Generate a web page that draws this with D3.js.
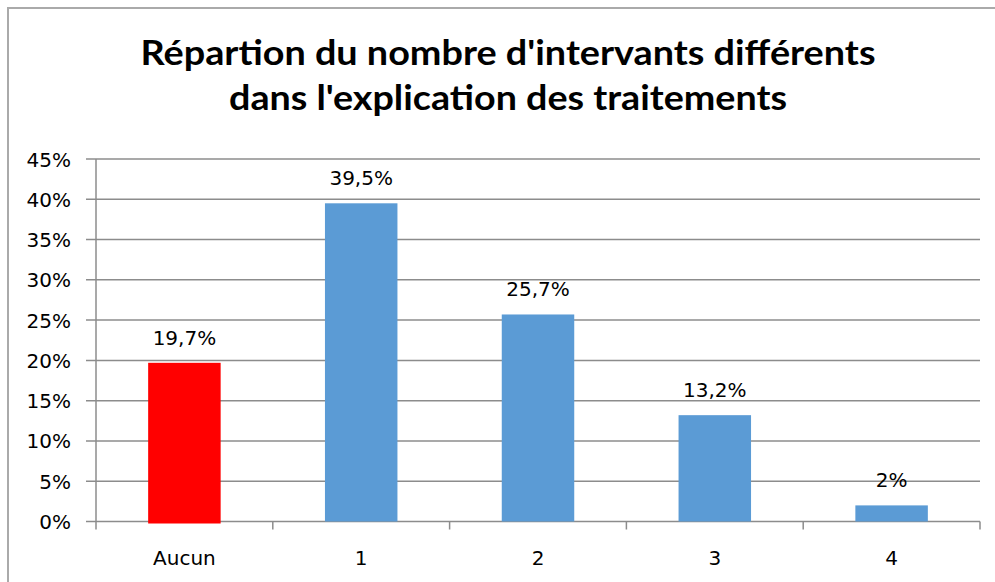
<!DOCTYPE html>
<html><head><meta charset="utf-8">
<script src="https://cdn.jsdelivr.net/npm/d3@7"></script>
<style>html,body{margin:0;padding:0;background:#fff;overflow:hidden}</style>
</head><body>
<svg id="c" width="995" height="582"></svg>
<script>
const categories = ["Aucun", "1", "2", "3", "4"];
const values = [19.7, 39.5, 25.7, 13.2, 2];
const valueLabels = ["19,7%", "39,5%", "25,7%", "13,2%", "2%"];
const barColors = ["#FF0000", "#5B9BD5", "#5B9BD5", "#5B9BD5", "#5B9BD5"];
const yTicks = [0, 5, 10, 15, 20, 25, 30, 35, 40, 45];
const titleLines = ["Répartion du nombre d'intervants différents", "dans l'explication des traitements"];

(function () {
const svg = d3.select("#c");
const font = "'DejaVu Sans', Verdana, sans-serif";
const titleFont = "Lato, 'Open Sans', sans-serif";
const pLeft = 96, pRight = 980, pTop = 159, pBottom = 521.5;

svg.append("rect").attr("x", 8).attr("y", 8).attr("width", 1000).attr("height", 600)
  .attr("fill", "#fff").attr("stroke", "#aaa").attr("stroke-width", 2);

const titleWidths = [735, 558];
svg.append("g").selectAll("text").data(titleLines).join("text")
  .attr("x", 508).attr("y", (d, i) => 65 + i * 45)
  .attr("text-anchor", "middle").attr("font-family", titleFont).attr("font-weight", 700)
  .attr("font-size", 35).attr("fill", "#000")
  .attr("textLength", (d, i) => titleWidths[i]).attr("lengthAdjust", "spacingAndGlyphs")
  .text(d => d);

const x = d3.scaleBand().domain(categories).range([pLeft, pRight]).padding(0);
const y = d3.scaleLinear().domain([0, 45]).range([pBottom, pTop]);

svg.append("g").selectAll("line").data(yTicks).join("line")
  .attr("x1", pLeft - 10).attr("x2", pRight)
  .attr("y1", d => y(d)).attr("y2", d => y(d))
  .attr("stroke", "#8c8c8c").attr("stroke-width", 1.5);

svg.append("line").attr("x1", pLeft).attr("x2", pLeft).attr("y1", pTop).attr("y2", pBottom + 8)
  .attr("stroke", "#8c8c8c").attr("stroke-width", 1.5);

const bounds = categories.map(c => x(c) + x.bandwidth());
svg.append("g").selectAll("line").data(bounds).join("line")
  .attr("x1", d => d).attr("x2", d => d).attr("y1", pBottom).attr("y2", pBottom + 8)
  .attr("stroke", "#8c8c8c").attr("stroke-width", 1.5);

svg.append("g").selectAll("text").data(yTicks).join("text")
  .attr("x", 71).attr("y", d => y(d) + 7.5)
  .attr("text-anchor", "end").attr("font-family", font).attr("font-size", 20)
  .attr("fill", "#000").text(d => d + "%");

const bw = x.bandwidth() * 0.41;
svg.append("g").selectAll("rect").data(values).join("rect")
  .attr("x", (d, i) => x(categories[i]) + x.bandwidth() / 2 - bw / 2)
  .attr("y", d => y(d))
  .attr("width", bw)
  .attr("height", (d, i) => pBottom - y(d) + (i === 0 ? 2 : 0))
  .attr("fill", (d, i) => barColors[i]);

svg.append("g").selectAll("text").data(values).join("text")
  .attr("x", (d, i) => x(categories[i]) + x.bandwidth() / 2)
  .attr("y", d => y(d) - 18)
  .attr("text-anchor", "middle").attr("font-family", font).attr("font-size", 20)
  .attr("fill", "#000").text((d, i) => valueLabels[i]);

svg.append("g").selectAll("text").data(categories).join("text")
  .attr("x", d => x(d) + x.bandwidth() / 2).attr("y", 565)
  .attr("text-anchor", "middle").attr("font-family", font).attr("font-size", 20)
  .attr("fill", "#000").text(d => d);
})();
</script>
</body></html>
